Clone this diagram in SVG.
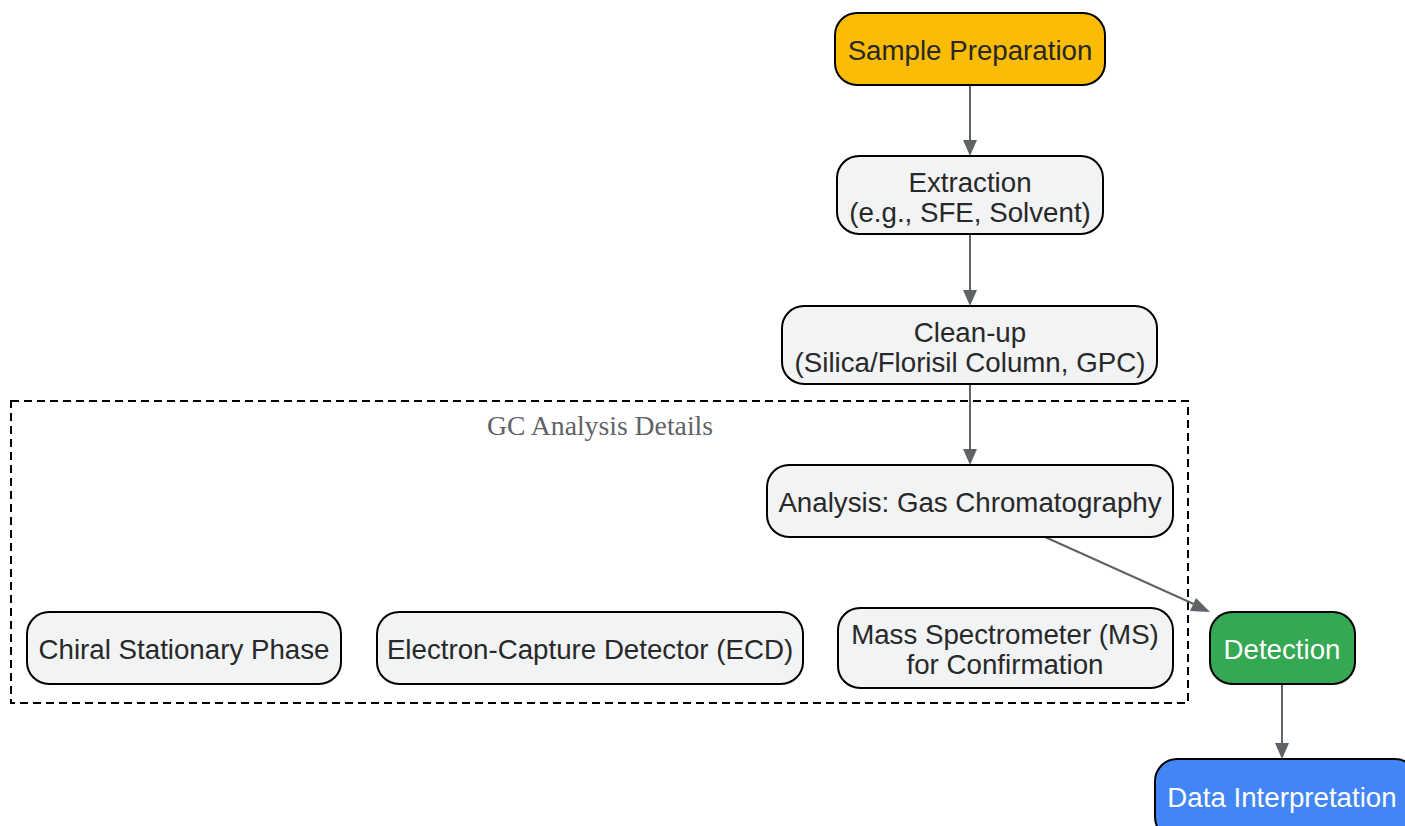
<svg xmlns="http://www.w3.org/2000/svg" width="1405" height="826" viewBox="0 0 1405 826">
<defs>
<style>
.n rect{stroke:#000;stroke-width:2}
.g rect{fill:#F1F3F4}
.t{font-family:"Liberation Sans",Arial,sans-serif;font-size:27.7px;text-anchor:middle;fill:#282828}
.w{fill:#fff}
.c{stroke:#5F6368;stroke-width:2;fill:none}
.h{fill:#5F6368}
</style>
</defs>
<rect width="1405" height="826" fill="#fff"/>
<g id="cluster">
<rect x="11" y="401" width="1177" height="302" fill="none" stroke="#000" stroke-width="2" stroke-dasharray="8,5"/>
<text x="600" y="435" font-family="'Liberation Serif',serif" font-size="27.7" fill="#5F6368" text-anchor="middle">GC Analysis Details</text>
</g>
<g id="connectors">
<line class="c" x1="970" y1="85" x2="970" y2="140"/>
<path class="h" d="M963,140 L977,140 L970,156 z"/>
<line class="c" x1="970" y1="234" x2="970" y2="290"/>
<path class="h" d="M963,290 L977,290 L970,306 z"/>
<line class="c" x1="970" y1="384" x2="970" y2="449"/>
<path class="h" d="M963,449 L977,449 L970,465 z"/>
<line class="c" x1="1045" y1="537" x2="1196" y2="605"/>
<path class="h" d="M1190,611 L1196,598 L1210,612 z"/>
<line class="c" x1="1282" y1="684" x2="1282" y2="743"/>
<path class="h" d="M1275,743 L1289,743 L1282,759 z"/>
</g>
<g id="sample" class="n">
<rect x="835" y="13" width="270" height="72" rx="22" fill="#FBBC05"/>
<text class="t" x="970" y="59.5">Sample Preparation</text>
</g>
<g id="extraction" class="n g">
<rect x="837" y="156" width="266" height="78" rx="22"/>
<text class="t" x="970" y="191.5">Extraction</text>
<text class="t" x="970" y="222">(e.g., SFE, Solvent)</text>
</g>
<g id="cleanup" class="n g">
<rect x="782" y="306" width="375" height="78" rx="22"/>
<text class="t" x="970" y="341.5">Clean-up</text>
<text class="t" x="970" y="372">(Silica/Florisil Column, GPC)</text>
</g>
<g id="analysis" class="n g">
<rect x="767" y="465" width="406" height="72" rx="22"/>
<text class="t" x="970" y="511.5">Analysis: Gas Chromatography</text>
</g>
<g id="chiral" class="n g">
<rect x="27" y="612" width="314" height="72" rx="22"/>
<text class="t" x="184" y="658.5">Chiral Stationary Phase</text>
</g>
<g id="ecd" class="n g">
<rect x="377" y="612" width="426" height="72" rx="22"/>
<text class="t" x="590" y="658.5">Electron-Capture Detector (ECD)</text>
</g>
<g id="ms" class="n g">
<rect x="838" y="608" width="335" height="80" rx="22"/>
<text class="t" x="1005" y="643.5">Mass Spectrometer (MS)</text>
<text class="t" x="1005" y="674">for Confirmation</text>
</g>
<g id="detection" class="n">
<rect x="1210" y="612" width="145" height="72" rx="22" fill="#34A853"/>
<text class="t w" x="1282" y="658.5">Detection</text>
</g>
<g id="data" class="n">
<rect x="1155" y="759" width="262" height="80" rx="22" fill="#4285F4"/>
<text class="t w" x="1282" y="806.5">Data Interpretation</text>
</g>
</svg>
